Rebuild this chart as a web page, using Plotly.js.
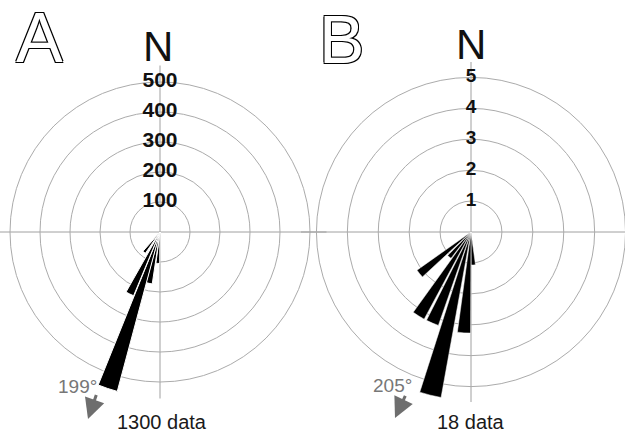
<!DOCTYPE html>
<html>
<head>
<meta charset="utf-8">
<script src="https://cdn.plot.ly/plotly-3.0.1.min.js"></script>
<style>
  html, body { margin: 0; padding: 0; width: 625px; height: 432px; overflow: hidden; background: #fff; }
  #rose { position: absolute; left: -20px; top: 0; }
</style>
</head>
<body>
<div id="rose"></div>
<script>
// Rose A: 1300 measurements, petal azimuths (deg) and counts
const sectorsA = [184, 192, 198.5, 206, 218];
const countsA  = [105, 175, 550, 230, 86];
const ringsA   = [100, 200, 300, 400, 500];
const ringLabelsA = ['100', '200', '300', '400', '500'];
const meanA  = 199;
const totalA = 1300;

// Rose B: 18 measurements
const sectorsB = [176, 184, 194, 203, 212, 221, 231];
const countsB  = [1.07, 3.27, 5.44, 3.2, 3.2, 1.07, 2.14];
const ringsB   = [1, 2, 3, 4, 5];
const ringLabelsB = ['1', '2', '3', '4', '5'];
const meanB  = 205;
const totalB = 18;

// the figure is a bit wider than the window and shifted left so both roses fit;
// all positions below are given in window pixels
const W = 680, H = 432, OFF = 20;
const fx = px => (px + OFF) / W;
const fy = py => 1 - py / H;

const textFont = 'Liberation Sans, Arial, sans-serif';

function roseAxes(cx, cy, R, rmax, rings) {
  return {
    domain: { x: [fx(cx - R), fx(cx + R)], y: [fy(cy + R), fy(cy - R)] },
    bgcolor: 'rgba(0,0,0,0)',
    hole: 0,
    radialaxis: {
      range: [0, rmax], tickvals: rings, showticklabels: false, ticks: '',
      showline: false, gridcolor: '#ababab', gridwidth: 1
    },
    angularaxis: {
      rotation: 90, direction: 'clockwise', tickmode: 'linear', tick0: 0, dtick: 90,
      showticklabels: false, ticks: '', showline: false,
      gridcolor: '#a0a0a0', gridwidth: 1
    }
  };
}

const traces = [
  {
    type: 'barpolar', subplot: 'polar', r: countsA, theta: sectorsA, width: 7,
    marker: { color: '#000', line: { color: '#fff', width: 1 } }, hoverinfo: 'r+theta'
  },
  {
    type: 'scatterpolar', subplot: 'polar', mode: 'text', r: ringsA,
    theta: ringsA.map(() => 0), text: ringLabelsA, textposition: 'middle center',
    textfont: { family: textFont, size: 21, color: '#111', weight: 'bold' }, hoverinfo: 'skip'
  },
  {
    type: 'barpolar', subplot: 'polar2', r: countsB, theta: sectorsB, width: 7.5,
    marker: { color: '#000', line: { color: '#fff', width: 0.5 } }, hoverinfo: 'r+theta'
  },
  {
    type: 'scatterpolar', subplot: 'polar2', mode: 'text', r: ringsB,
    theta: ringsB.map(() => 0), text: ringLabelsB, textposition: 'middle center',
    textfont: { family: textFont, size: 19, color: '#111', weight: 'bold' }, hoverinfo: 'skip'
  }
];

const outline = '-1px -1px 0 #000, 1px -1px 0 #000, -1px 1px 0 #000, 1px 1px 0 #000';

// grey arrow along the mean azimuth, tip at (tipX, tipY)
function meanArrow(tipX, tipY, deg, len) {
  const a = deg * Math.PI / 180;
  return {
    xref: 'paper', yref: 'paper', x: fx(tipX), y: fy(tipY), text: '',
    showarrow: true, arrowhead: 2, arrowsize: 1.35, arrowwidth: 3, arrowcolor: '#6e6e6e',
    ax: -Math.sin(a) * len, ay: Math.cos(a) * len, standoff: 0
  };
}

function label(text, cx, cy, size, color, extra) {
  return Object.assign({
    xref: 'paper', yref: 'paper', x: fx(cx), y: fy(cy), xanchor: 'center', yanchor: 'middle',
    text: text, showarrow: false,
    font: { family: textFont, size: size, color: color }
  }, extra || {});
}

const layout = {
  width: W, height: H,
  margin: { l: 0, r: 0, t: 0, b: 0 },
  paper_bgcolor: '#fff',
  showlegend: false,
  polar: roseAxes(160, 232, 166.5, 555, ringsA),
  polar2: roseAxes(471, 232, 170, 5.5, ringsB),
  annotations: [
    label('A', 39, 38, 70, '#fff', { font: { family: textFont, size: 70, color: '#fff', shadow: outline } }),
    label('B', 341, 39, 68, '#fff', { font: { family: textFont, size: 68, color: '#fff', shadow: outline } }),
    label('N', 158, 46, 42, '#111'),
    label('N', 471, 45, 42, '#111'),
    label(meanA + '°', 78, 386, 19, '#777'),
    label(meanB + '°', 393, 385, 19, '#777'),
    meanArrow(88, 419, meanA, 27),
    meanArrow(395, 418, meanB, 26),
    label(totalA + ' data', 162, 422, 20, '#1a1a1a'),
    label(totalB + ' data', 471, 422, 20, '#1a1a1a')
  ]
};

Plotly.newPlot('rose', traces, layout, { displayModeBar: false, staticPlot: true });
</script>
</body>
</html>
